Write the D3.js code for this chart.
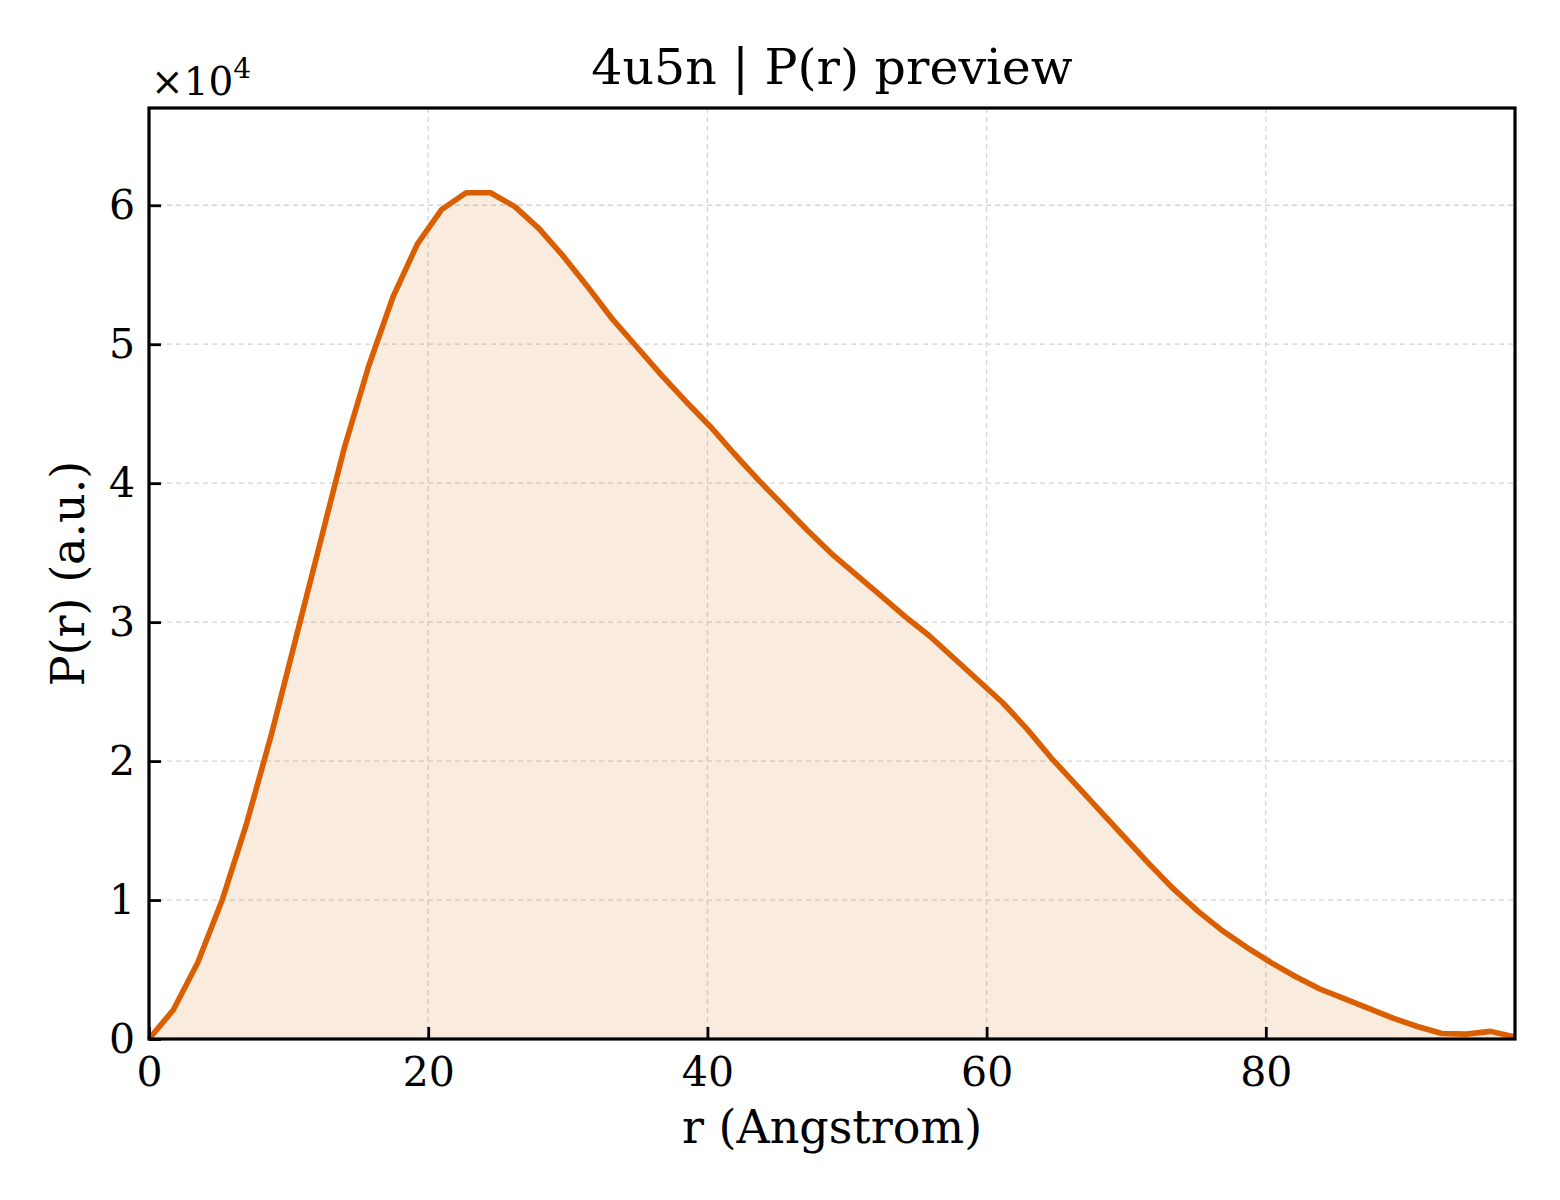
<!DOCTYPE html>
<html lang="en">
<head>
    <meta charset="UTF-8">
    <script src="https://cdn.jsdelivr.net/npm/d3@7"></script>
    <title>4u5n P(r)</title>
    <style>
        body { margin: 0; background: #fff; }
        text { font-family: "DejaVu Serif", serif; fill: #000; }
    </style>
</head>
<body>
    <svg width="1560" height="1200"></svg>
    <script>
        // r step of the P(r) grid, and the sampled values (in units of 1e4)
        const rStep = 1.7473;
        const prValues = [
            0, 0.21, 0.55, 1.00, 1.55, 2.18, 2.87, 3.56, 4.25, 4.84,
            5.34, 5.72, 5.97, 6.09, 6.09, 5.99, 5.83, 5.63, 5.41, 5.18,
            4.98, 4.78, 4.59, 4.41, 4.21, 4.02, 3.84, 3.66, 3.49, 3.34,
            3.19, 3.04, 2.90, 2.74, 2.58, 2.42, 2.23, 2.02, 1.83, 1.64,
            1.45, 1.26, 1.08, 0.92, 0.78, 0.66, 0.55, 0.45, 0.36, 0.29,
            0.22, 0.15, 0.09, 0.04, 0.035, 0.055, 0.015
        ];
        const xTicks = [0, 20, 40, 60, 80];
        const yTicks = [0, 1, 2, 3, 4, 5, 6];

        const data = prValues.map((v, i) => ({ r: i * rStep, p: v * 1e4 }));

        const margin = { left: 149, right: 45, top: 108, bottom: 161 };
        const W = 1560, H = 1200;
        const w = W - margin.left - margin.right;
        const h = H - margin.top - margin.bottom;

        const svg = d3.select('svg');
        const g = svg.append('g').attr('transform', `translate(${margin.left},${margin.top})`);

        const x = d3.scaleLinear().domain([0, d3.max(data, d => d.r)]).range([0, w]);
        const y = d3.scaleLinear().domain([0, 67000]).range([h, 0]);

        // grid
        g.append('g').selectAll('line').data(xTicks.filter(t => t > 0)).join('line')
            .attr('x1', d => x(d)).attr('x2', d => x(d)).attr('y1', 0).attr('y2', h)
            .attr('stroke', '#d4d4d4').attr('stroke-width', 1.3).attr('stroke-dasharray', '5,4');
        g.append('g').selectAll('line').data(yTicks.filter(t => t > 0)).join('line')
            .attr('x1', 0).attr('x2', w).attr('y1', d => y(d * 1e4)).attr('y2', d => y(d * 1e4))
            .attr('stroke', '#d4d4d4').attr('stroke-width', 1.3).attr('stroke-dasharray', '5,4');

        const area = d3.area().x(d => x(d.r)).y0(y(0)).y1(d => y(d.p));
        const line = d3.line().x(d => x(d.r)).y(d => y(d.p));

        g.append('path').datum(data).attr('d', area)
            .attr('fill', '#d95f02').attr('fill-opacity', 0.125);
        g.append('path').datum(data).attr('d', line)
            .attr('fill', 'none').attr('stroke', '#d95f02').attr('stroke-width', 5.6)
            .attr('stroke-linejoin', 'round');

        // axes, ticks pointing inward
        const xAxis = d3.axisBottom(x).tickValues(xTicks).tickSizeInner(-12).tickSizeOuter(0);
        const yAxis = d3.axisLeft(y).tickValues(yTicks.map(t => t * 1e4)).tickFormat(d => d / 1e4)
            .tickSizeInner(-12).tickSizeOuter(0);

        const gx = g.append('g').attr('transform', `translate(0,${h})`).call(xAxis);
        const gy = g.append('g').call(yAxis);
        [gx, gy].forEach(a => {
            a.select('.domain').remove();
            a.selectAll('.tick line').attr('stroke', '#000').attr('stroke-width', 2.8);
            a.selectAll('.tick text').style('font-size', '41px').style('font-family', '"DejaVu Serif", serif');
        });
        gx.selectAll('.tick text').attr('dy', '0.71em').attr('y', 18);
        gy.selectAll('.tick text').attr('x', -14);

        g.append('rect').attr('width', w).attr('height', h)
            .attr('fill', 'none').attr('stroke', '#000').attr('stroke-width', 3.2);

        // labels
        svg.append('text').attr('x', margin.left + w / 2).attr('y', 84)
            .attr('text-anchor', 'middle').style('font-size', '49px').text('4u5n | P(r) preview');
        svg.append('text').attr('x', margin.left + w / 2).attr('y', 1143)
            .attr('text-anchor', 'middle').style('font-size', '46px').text('r (Angstrom)');
        svg.append('text').attr('transform', `translate(84,${margin.top + h / 2}) rotate(-90)`)
            .attr('text-anchor', 'middle').style('font-size', '46px').text('P(r) (a.u.)');

        const mult = svg.append('text').attr('x', 151).attr('y', 95).style('font-size', '39px');
        mult.append('tspan').text('×10');
        mult.append('tspan').attr('dy', -17).style('font-size', '28px').text('4');
    </script>
</body>
</html>
